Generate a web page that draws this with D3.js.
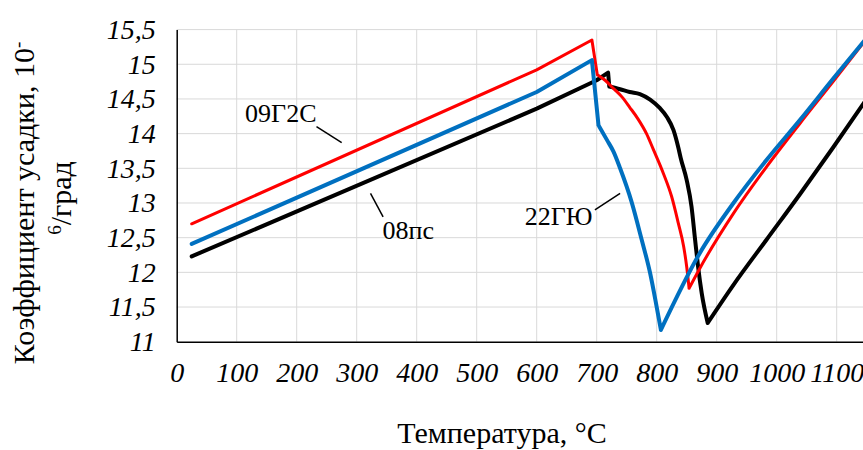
<!DOCTYPE html>
<html>
<head>
<meta charset="utf-8">
<script src="https://cdn.jsdelivr.net/npm/d3@7"></script>
<style>
  body { margin: 0; background: #fff; }
  text { font-family: "Liberation Serif", "Times New Roman", serif; fill: #000; }
</style>
</head>
<body>
<div id="chart"></div>
<script>
// ticks
var xTicks = [0, 100, 200, 300, 400, 500, 600, 700, 800, 900, 1000, 1100, 1200];
var yTicks = [11, 11.5, 12, 12.5, 13, 13.5, 14, 14.5, 15, 15.5];

// 08пс (black)
var t08ps = [25, 600, 700, 719, 721, 739, 755, 772, 789, 805, 817, 828, 836, 840, 850, 858, 864, 869, 875, 885, 928, 983, 1039, 1094, 1150];
var k08ps = [12.23, 14.36, 14.77, 14.88, 14.68, 14.64, 14.60, 14.57, 14.49, 14.37, 14.24, 14.05, 13.80, 13.65, 13.33, 12.95, 12.47, 12.08, 11.70, 11.27, 11.82, 12.47, 13.13, 13.80, 14.50];

// 09Г2С (red)
var t09g2s = [25, 600, 692, 701, 714, 728, 742, 755, 769, 783, 794, 811, 825, 836, 845, 850, 854, 872, 928, 983, 1039, 1094, 1150];
var k09g2s = [12.70, 14.92, 15.35, 14.85, 14.77, 14.65, 14.53, 14.38, 14.21, 14.00, 13.78, 13.43, 13.09, 12.71, 12.37, 12.08, 11.77, 12.06, 12.85, 13.52, 14.15, 14.75, 15.37];

// 22ГЮ (blue)
var t22gu = [25, 600, 692, 703, 717, 728, 739, 758, 775, 789, 800, 807, 872, 928, 983, 1039, 1094, 1150];
var k22gu = [12.41, 14.60, 15.06, 14.12, 13.91, 13.74, 13.50, 13.02, 12.47, 11.99, 11.50, 11.17, 12.28, 13.00, 13.62, 14.20, 14.79, 15.38];

// index where the sharp drop ends and index of the minimum
var bends08ps  = [4, 19];
var bends09g2s = [3, 16];
var bends22gu  = [3, 11];

var series = [
  {name: "08пс",  t: t08ps,  k: k08ps,  bends: bends08ps,  color: "#000000", width: 4},
  {name: "09Г2С", t: t09g2s, k: k09g2s, bends: bends09g2s, color: "#ff0000", width: 3},
  {name: "22ГЮ",  t: t22gu,  k: k22gu,  bends: bends22gu,  color: "#0070c0", width: 4}
];

// labels with leader lines, in data units
var labelNames = ["09Г2С", "08пс", "22ГЮ"];
var labelAt    = [[114, 14.17], [343, 12.48], [580, 12.68]];
var leaderFrom = [[233, 14.10], [323, 13.14], [697, 12.90]];
var leaderTo   = [[275, 13.87], [344, 12.80], [739, 13.14]];

var width = 863, height = 450;
var margin = {left: 176.7, top: 29.6, bottom: 108.3};

var x = d3.scaleLinear().domain([0, 1200]).range([margin.left, margin.left + 720]);
var y = d3.scaleLinear().domain([11, 15.5]).range([height - margin.bottom, margin.top]);

var svg = d3.select("#chart").append("svg")
    .attr("width", width)
    .attr("height", height);

// grid
svg.append("g").selectAll("line")
    .data(xTicks.filter(function(d) { return d > 0; }))
    .join("line")
    .attr("x1", function(d) { return x(d); })
    .attr("x2", function(d) { return x(d); })
    .attr("y1", y(11))
    .attr("y2", y(15.5))
    .attr("stroke", "#d9d9d9")
    .attr("stroke-width", 1);

svg.append("g").selectAll("line")
    .data(yTicks.filter(function(d) { return d > 11; }))
    .join("line")
    .attr("x1", x(0))
    .attr("x2", x(1200))
    .attr("y1", function(d) { return y(d); })
    .attr("y2", function(d) { return y(d); })
    .attr("stroke", "#d9d9d9")
    .attr("stroke-width", 1);

// axes
var fmt = function(d) { return String(d).replace(".", ","); };

var xAxis = svg.append("g")
    .attr("transform", "translate(0," + y(11) + ")")
    .call(d3.axisBottom(x).tickValues(xTicks.slice(0, 12)).tickSize(0).tickPadding(20).tickFormat(fmt));
xAxis.select(".domain").attr("stroke", "#000").attr("stroke-width", 1.5);
xAxis.selectAll("text")
    .style("font-family", "Liberation Serif")
    .style("font-style", "italic")
    .style("font-size", "28px");

var yAxis = svg.append("g")
    .attr("transform", "translate(" + x(0) + ",0)")
    .call(d3.axisLeft(y).tickValues(yTicks).tickSize(0).tickPadding(21).tickFormat(fmt));
yAxis.select(".domain").attr("stroke", "#000").attr("stroke-width", 1.5);
yAxis.selectAll("text")
    .style("font-family", "Liberation Serif")
    .style("font-style", "italic")
    .style("font-size", "28px");

// curves: straight up to the end of the drop, smooth after
var straight = d3.line()
    .x(function(d) { return x(d[0]); })
    .y(function(d) { return y(d[1]); });
var smooth = d3.line()
    .curve(d3.curveMonotoneX)
    .x(function(d) { return x(d[0]); })
    .y(function(d) { return y(d[1]); });

function pathFor(s) {
  var pts = d3.zip(s.t, s.k);
  var a = s.bends[0], b = s.bends[1];
  return straight(pts.slice(0, a + 1)) +
         smooth(pts.slice(a, b + 1)) +
         smooth(pts.slice(b));
}

svg.append("g").selectAll("path")
    .data(series)
    .join("path")
    .attr("d", pathFor)
    .attr("fill", "none")
    .attr("stroke", function(s) { return s.color; })
    .attr("stroke-width", function(s) { return s.width; })
    .attr("stroke-linejoin", "round")
    .attr("stroke-linecap", "round");

// annotations
svg.append("g").selectAll("line")
    .data(d3.range(labelNames.length))
    .join("line")
    .attr("x1", function(i) { return x(leaderFrom[i][0]); })
    .attr("y1", function(i) { return y(leaderFrom[i][1]); })
    .attr("x2", function(i) { return x(leaderTo[i][0]); })
    .attr("y2", function(i) { return y(leaderTo[i][1]); })
    .attr("stroke", "#000")
    .attr("stroke-width", 1.5);

svg.append("g").selectAll("text")
    .data(d3.range(labelNames.length))
    .join("text")
    .attr("x", function(i) { return x(labelAt[i][0]); })
    .attr("y", function(i) { return y(labelAt[i][1]); })
    .style("font-size", "26px")
    .text(function(i) { return labelNames[i]; });

// axis titles
svg.append("text")
    .attr("x", 502)
    .attr("y", 443)
    .attr("text-anchor", "middle")
    .style("font-size", "30px")
    .text("Температура, °C");

var yt1 = svg.append("text")
    .attr("transform", "translate(34,203) rotate(-90)")
    .attr("text-anchor", "middle")
    .style("font-size", "30px");
yt1.append("tspan").text("Коэффициент усадки, 10");
yt1.append("tspan").attr("baseline-shift", "super").style("font-size", "19px").text("-");

var yt2 = svg.append("text")
    .attr("transform", "translate(71,198) rotate(-90)")
    .attr("text-anchor", "middle")
    .style("font-size", "30px");
yt2.append("tspan").attr("baseline-shift", "super").style("font-size", "19px").text("6");
yt2.append("tspan").text("/град");
</script>
</body>
</html>
